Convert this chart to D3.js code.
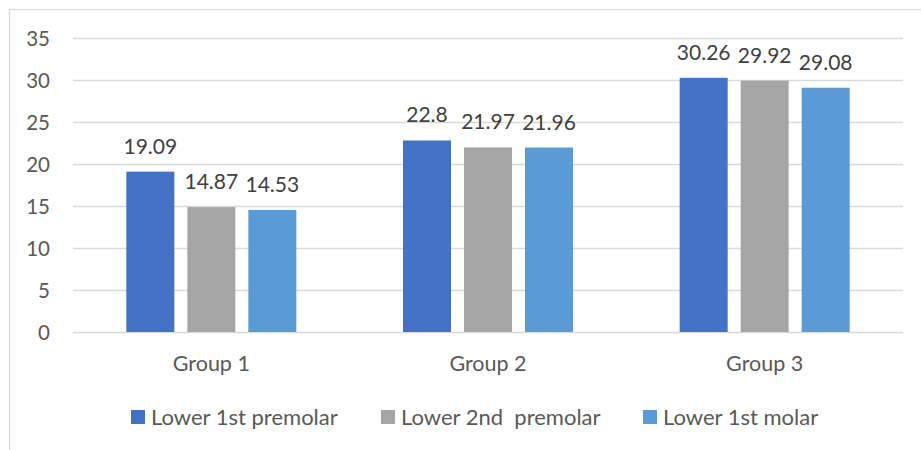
<!DOCTYPE html>
<html>
<head>
<meta charset="utf-8">
<script src="https://cdn.jsdelivr.net/npm/d3@7"></script>
<style>
  html, body { margin: 0; padding: 0; background: #fff; }
  svg { display: block; font-family: Lato, "Open Sans", sans-serif; }
</style>
</head>
<body>
<svg id="chart" width="921" height="450"></svg>
<script>
// Chart data
const groups = ["Group 1", "Group 2", "Group 3"];
const seriesNames = ["Lower 1st premolar", "Lower 2nd  premolar", "Lower 1st molar"];
const lower1stPremolar = [19.09, 22.8, 30.26];
const lower2ndPremolar = [14.87, 21.97, 29.92];
const lower1stMolar = [14.53, 21.96, 29.08];
const yTicks = [0, 5, 10, 15, 20, 25, 30, 35];
const seriesColors = ["#4472C4", "#A5A5A5", "#5B9BD5"];

const seriesValues = [lower1stPremolar, lower2ndPremolar, lower1stMolar];

const svg = d3.select("#chart");
const W = 921, H = 450;
const plot = { left: 73, right: 903, top: 38, bottom: 332 };

// Outer chart frame (extends past the right and bottom edges)
svg.append("rect")
  .attr("x", 9.5).attr("y", 9.5)
  .attr("width", W + 20).attr("height", H + 20)
  .attr("fill", "none").attr("stroke", "#d9d9d9").attr("stroke-width", 1.2);

const y = d3.scaleLinear().domain([0, 35]).range([plot.bottom, plot.top]);
const x0 = d3.scaleBand().domain(groups).range([plot.left, plot.right]).padding(0);
const inset = (x0.bandwidth() - 170) / 2;
const x1 = d3.scaleBand().domain(seriesNames)
  .range([inset, x0.bandwidth() - inset])
  .paddingInner(13 / 61).paddingOuter(0);

// Gridlines + value axis labels
const yAxis = d3.axisLeft(y)
  .tickValues(yTicks)
  .tickSize(-(plot.right - plot.left))
  .tickPadding(23)
  .tickFormat(d3.format("d"));

const gAxis = svg.append("g")
  .attr("transform", `translate(${plot.left},0)`)
  .call(yAxis);
gAxis.select(".domain").remove();
gAxis.selectAll(".tick line").attr("stroke", "#d9d9d9").attr("stroke-width", 1.5);
gAxis.selectAll(".tick text")
  .attr("fill", "#595959")
  .attr("font-size", 20.5)
  .attr("dy", "0.36em")
  .style("font-family", "Lato, sans-serif");

// Bars
const groupG = svg.append("g").selectAll("g")
  .data(groups)
  .join("g")
  .attr("transform", d => `translate(${x0(d)},0)`);

groupG.selectAll("rect")
  .data((g, gi) => seriesNames.map((s, si) => ({ s, si, v: seriesValues[si][gi] })))
  .join("rect")
  .attr("x", d => x1(d.s))
  .attr("y", d => y(d.v))
  .attr("width", x1.bandwidth())
  .attr("height", d => y(0) - y(d.v))
  .attr("fill", d => seriesColors[d.si]);

// Data labels
groupG.selectAll("text.val")
  .data((g, gi) => seriesNames.map((s, si) => ({ s, si, v: seriesValues[si][gi] })))
  .join("text")
  .attr("class", "val")
  .attr("x", d => x1(d.s) + x1.bandwidth() / 2)
  .attr("y", d => y(d.v) - 18)
  .attr("text-anchor", "middle")
  .attr("fill", "#404040")
  .attr("font-size", 21)
  .text(d => String(d.v));

// Category labels
svg.append("g").selectAll("text")
  .data(groups)
  .join("text")
  .attr("x", d => x0(d) + x0.bandwidth() / 2)
  .attr("y", 371)
  .attr("text-anchor", "middle")
  .attr("fill", "#595959")
  .attr("font-size", 21.5)
  .text(d => d);

// Legend
const legendX = [131, 381, 643];
const legend = svg.append("g").selectAll("g")
  .data(seriesNames)
  .join("g")
  .attr("transform", (d, i) => `translate(${legendX[i]},410)`);
legend.append("rect")
  .attr("width", 14).attr("height", 14)
  .attr("fill", (d, i) => seriesColors[i]);
legend.append("text")
  .attr("x", 20).attr("y", 14.5)
  .attr("fill", "#595959")
  .attr("font-size", 22)
  .attr("xml:space", "preserve")
  .style("white-space", "pre")
  .text(d => d);
</script>
</body>
</html>
